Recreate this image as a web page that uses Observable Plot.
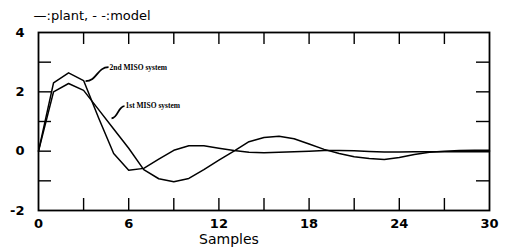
<!DOCTYPE html>
<html>
<head>
<meta charset="utf-8">
<script src="https://cdn.jsdelivr.net/npm/d3@7"></script>
<script src="https://cdn.jsdelivr.net/npm/@observablehq/plot@0.6"></script>
<style>
  body { margin: 0; background: #fff; }
  #chart svg { display: block; }
</style>
</head>
<body>
<div id="chart"></div>
<script>
// ---- data ----
const samples = [0,1,2,3,4,5,6,7,8,9,10,11,12,13,14,15,16,17,18,19,20,21,22,23,24,25,26,27,28,29,30];
const secondMISO = [0, 2.3, 2.64, 2.38, 1.12, -0.08, -0.64, -0.58, -0.27, 0.03, 0.18, 0.18, 0.1, 0.02, -0.04, -0.05, -0.04, -0.02, 0, 0.02, 0.02, 0.01, -0.01, -0.03, -0.03, -0.02, -0.02, -0.02, -0.02, -0.02, -0.02];
const firstMISO  = [0, 2.0, 2.28, 2.05, 1.4, 0.75, 0.1, -0.62, -0.93, -1.03, -0.92, -0.62, -0.3, 0.0, 0.32, 0.46, 0.5, 0.42, 0.24, 0.06, -0.08, -0.19, -0.25, -0.28, -0.21, -0.11, -0.04, 0.0, 0.02, 0.03, 0.03];
const xTickMarks = [3,6,9,12,15,18,21,24,27];
const xTickLabels = [0,6,12,18,24,30];
const yTickMarks = [-1,0,1,2,3];
const yTickLabels = [-2,0,2,4];
const annoLabels = ["2nd MISO system", "1st MISO system"];
const annoFrom = [[3.13, 2.36], [4.86, 1.11]];
const annoTo   = [[4.66, 2.83], [5.72, 1.52]];
const titleText = "\u2014:plant, - -:model";
const xTitle = "Samples";

// ---- build tables ----
const rows = samples.flatMap((s, i) => [
  {s, v: secondMISO[i], sys: "2nd"},
  {s, v: firstMISO[i], sys: "1st"}
]);
const annos = annoLabels.map((label, i) => ({
  label, x1: annoFrom[i][0], y1: annoFrom[i][1], x2: annoTo[i][0], y2: annoTo[i][1]
}));

const W = 510, H = 251, mL = 38, mR = 21, mT = 32, mB = 41;
const frameW = W - mL - mR, frameH = H - mT - mB;
const xTickLen = 12, yTickLen = 13;
const font = "'DejaVu Sans', sans-serif";

const chart = Plot.plot({
  width: W,
  height: H,
  marginLeft: mL,
  marginRight: mR,
  marginTop: mT,
  marginBottom: mB,
  x: {domain: [0, 30], axis: null},
  y: {domain: [-2, 4], axis: null},
  style: {fontFamily: font, background: "#fff", color: "#000"},
  marks: [
    // inward ticks on all four sides
    Plot.ruleX(xTickMarks, {x: d => d, insetTop: frameH - xTickLen, stroke: "#000", strokeWidth: 1.4}),
    Plot.ruleX(xTickMarks, {x: d => d, insetBottom: frameH - xTickLen, stroke: "#000", strokeWidth: 1.4}),
    Plot.ruleY(yTickMarks, {y: d => d, insetRight: frameW - yTickLen, stroke: "#000", strokeWidth: 1.4}),
    Plot.ruleY(yTickMarks, {y: d => d, insetLeft: frameW - yTickLen, stroke: "#000", strokeWidth: 1.4}),
    // tick labels
    Plot.axisX({anchor: "bottom", ticks: xTickLabels, tickSize: 0, tickPadding: 8, fontSize: 13, fontWeight: "bold", label: null, tickFormat: d => String(d)}),
    Plot.axisY({anchor: "left", ticks: yTickLabels, tickSize: 0, tickPadding: 14, fontSize: 13, fontWeight: "bold", label: null, tickFormat: d => String(d)}),
    Plot.frame({stroke: "#000", strokeWidth: 1.8}),
    // curves
    Plot.line(rows, {x: "s", y: "v", z: "sys", stroke: "#000", strokeWidth: 1.5}),
    // annotations
    Plot.link(annos, {x1: "x1", y1: "y1", x2: "x2", y2: "y2", curve: "bump-x", stroke: "#000", strokeWidth: 1.8}),
    Plot.text(annos, {x: "x2", y: "y2", text: "label", textAnchor: "start", dx: 1, fontFamily: "'Liberation Serif', serif", fontWeight: "bold", fontSize: 7.5, fill: "#000"}),
    // title and x label
    Plot.text([titleText], {frameAnchor: "top-left", dx: -5, dy: -22, textAnchor: "start", fontSize: 13, fill: "#000"}),
    Plot.text([xTitle], {frameAnchor: "bottom", dx: -35, dy: 33, fontSize: 14, fill: "#000"})
  ]
});
document.getElementById("chart").appendChild(chart);
</script>
</body>
</html>
